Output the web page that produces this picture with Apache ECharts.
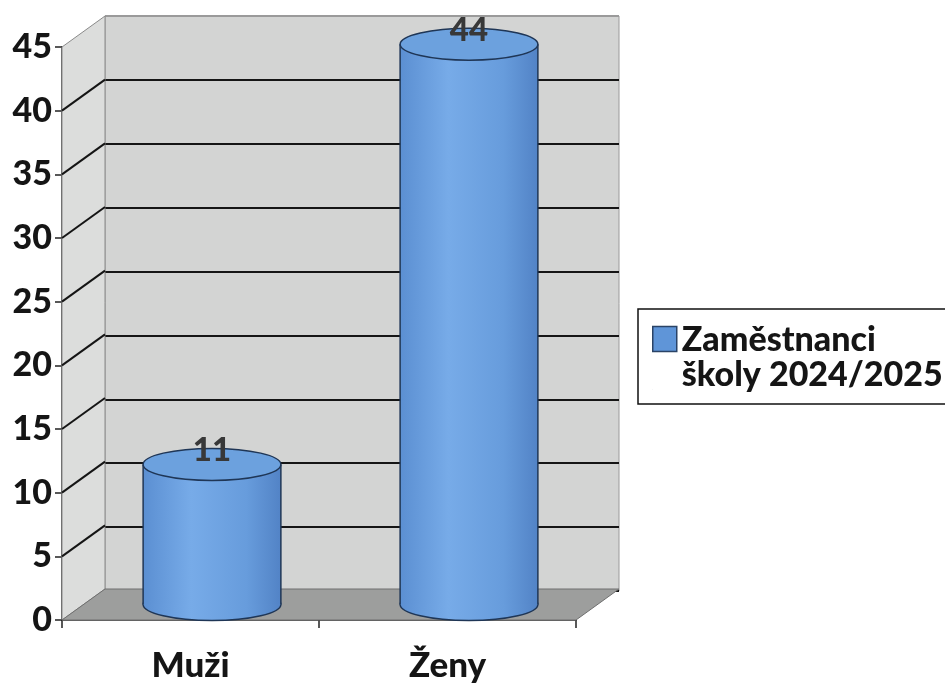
<!DOCTYPE html>
<html>
<head>
<meta charset="utf-8">
<script src="https://cdn.jsdelivr.net/npm/echarts@6/dist/echarts.min.js"></script>
<style>
html, body { margin: 0; background: #fff; }
#chart { width: 945px; height: 683px; }
</style>
</head>
<body>
<div id="chart"></div>
<script>
// data
var categories = ['Muži', 'Ženy'];
var values = [11, 44];
var seriesName = 'Zaměstnanci\nškoly 2024/2025';
var yMin = 0, yMax = 45, yStep = 5;

// 3D hloubka (posun zadni steny)
var DX = 43, DY = -31;
var FONT = 'Lato';
var WEIGHT = 900;

var chart = echarts.init(document.getElementById('chart'));

// bocni stena, diagonaly a podlaha
function renderWalls(params, api) {
    var cs = params.coordSys;
    var x0 = cs.x, x1 = cs.x + cs.width;
    var yTop = api.coord([0, yMax])[1];
    var yBot = api.coord([0, yMin])[1];
    var children = [];
    children.push({
        type: 'polygon',
        shape: { points: [[x0, yTop], [x0 + DX, yTop + DY], [x0 + DX, yBot + DY], [x0, yBot]] },
        style: { fill: '#dcdddc', stroke: '#8a8a8a', lineWidth: 1 }
    });
    for (var v = yMin + yStep; v < yMax; v += yStep) {
        var y = api.coord([0, v])[1];
        children.push({
            type: 'line',
            shape: { x1: x0, y1: y, x2: x0 + DX, y2: y + DY },
            style: { stroke: '#151515', lineWidth: 2 }
        });
    }
    children.push({
        type: 'polygon',
        shape: { points: [[x0, yBot], [x1, yBot], [x1 + DX, yBot + DY], [x0 + DX, yBot + DY]] },
        style: { fill: '#9d9e9d', stroke: '#6f6f6f', lineWidth: 1 }
    });
    return { type: 'group', children: children };
}

// valce
function renderCylinder(params, api) {
    var i = api.value(0);
    var v = api.value(1);
    var top = api.coord([i, v]);
    var base = api.coord([i, 0]);
    var cx = top[0] + DX / 2;
    var ty = top[1] + DY / 2;
    var by = base[1] + DY / 2;
    var rx = api.size([1, 0])[0] * 0.268;
    var ry = 16;
    var grad = {
        type: 'linear', x: 0, y: 0, x2: 1, y2: 0,
        colorStops: [
            { offset: 0, color: '#5b8fd2' },
            { offset: 0.35, color: '#77abe8' },
            { offset: 0.75, color: '#679cdc' },
            { offset: 1, color: '#5283c6' }
        ]
    };
    var stroke = '#1f3656';
    return {
        type: 'group',
        children: [
            { type: 'ellipse', shape: { cx: cx, cy: by, rx: rx, ry: ry }, style: { fill: grad, stroke: stroke, lineWidth: 1.5 } },
            { type: 'rect', shape: { x: cx - rx, y: ty, width: rx * 2, height: by - ty }, style: { fill: grad } },
            { type: 'line', shape: { x1: cx - rx, y1: ty, x2: cx - rx, y2: by }, style: { stroke: stroke, lineWidth: 1.5 } },
            { type: 'line', shape: { x1: cx + rx, y1: ty, x2: cx + rx, y2: by }, style: { stroke: stroke, lineWidth: 1.5 } },
            { type: 'ellipse', shape: { cx: cx, cy: ty, rx: rx, ry: ry }, style: { fill: '#6ca1de', stroke: stroke, lineWidth: 1.5 } },
            {
                type: 'text',
                style: {
                    x: cx, y: ty - ry + 2, text: String(v),
                    align: 'center', verticalAlign: 'middle',
                    font: WEIGHT + ' 33px ' + FONT, fill: '#383838'
                }
            }
        ]
    };
}

var splitColors = [];
for (var k = yMin; k <= yMax; k += yStep) {
    splitColors.push(k === yMax ? '#9a9a9a' : '#151515');
}

var option = {
    backgroundColor: '#fff',
    animation: false,
    legend: {
        left: 638,
        top: 309,
        orient: 'vertical',
        backgroundColor: '#fff',
        borderColor: '#111',
        borderWidth: 1.5,
        borderRadius: 0,
        padding: [14, 20, 11, 14],
        itemWidth: 24,
        itemHeight: 63,
        textStyle: { fontFamily: FONT, fontWeight: WEIGHT, fontSize: 34, lineHeight: 35, color: '#151515' },
        data: [{
            name: seriesName,
            icon: 'path://M0,0H24V25H0Z M0,63H0.05',
            itemStyle: { color: '#5f95d8', borderColor: '#2a4366', borderWidth: 1.5 }
        }]
    },
    grid: [
        { left: 62, top: 47, width: 514, height: 575 },
        { left: 105, top: 16, width: 514, height: 575, show: true, backgroundColor: '#d3d4d3', borderColor: '#9a9a9a', borderWidth: 1 }
    ],
    xAxis: [
        {
            type: 'category', gridIndex: 0, data: categories,
            axisLine: { lineStyle: { color: '#222', width: 1.5 } },
            axisTick: { show: true, length: 8, lineStyle: { color: '#222', width: 1.5 } },
            axisLabel: { margin: 28, color: '#151515', fontFamily: FONT, fontWeight: WEIGHT, fontSize: 35 }
        },
        { type: 'value', gridIndex: 1, show: false }
    ],
    yAxis: [
        {
            type: 'value', gridIndex: 0, min: yMin, max: yMax, interval: yStep,
            axisLine: { show: true, lineStyle: { color: '#222', width: 1.5 } },
            axisTick: { show: true, length: 7, lineStyle: { color: '#222', width: 1.5 } },
            splitLine: { show: false },
            axisLabel: { margin: 10, color: '#151515', fontFamily: FONT, fontWeight: WEIGHT, fontSize: 34 }
        },
        {
            type: 'value', gridIndex: 1, min: yMin, max: yMax, interval: yStep,
            axisLine: { show: false }, axisTick: { show: false }, axisLabel: { show: false },
            splitLine: { show: true, lineStyle: { color: splitColors, width: 2 } }
        }
    ],
    series: [
        {
            type: 'custom', name: 'walls', xAxisIndex: 0, yAxisIndex: 0,
            silent: true, z: 1,
            renderItem: renderWalls,
            data: [[0, 0]]
        },
        {
            type: 'custom', name: seriesName, xAxisIndex: 0, yAxisIndex: 0,
            z: 3,
            renderItem: renderCylinder,
            encode: { x: 0, y: 1 },
            data: values.map(function (v, i) { return [i, v]; })
        }
    ]
};

chart.setOption(option);
</script>
</body>
</html>
